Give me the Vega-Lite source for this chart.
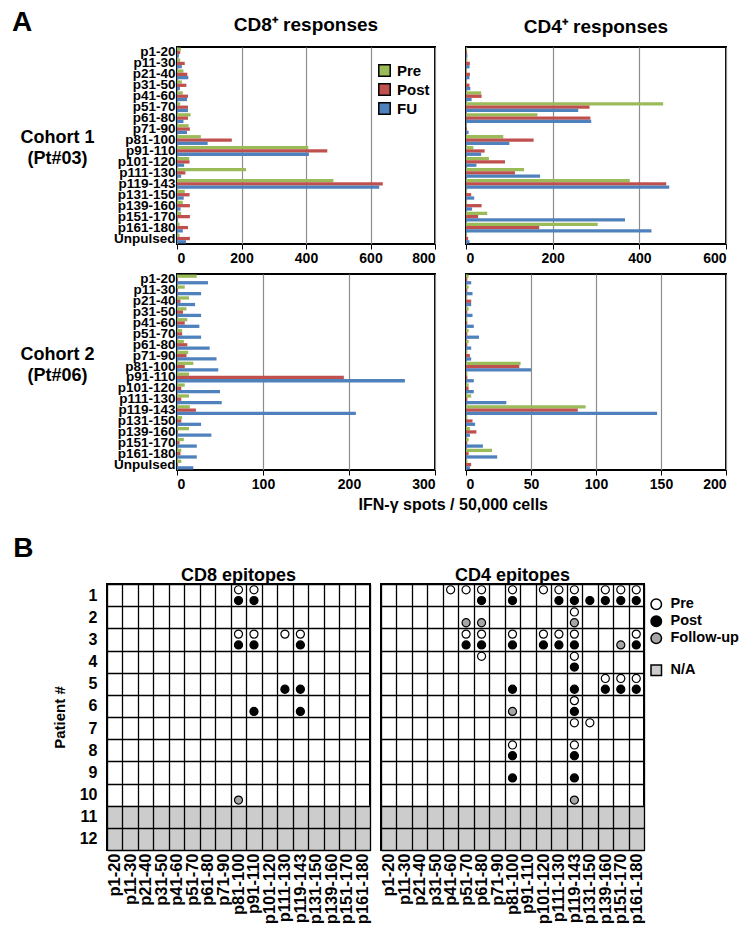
{
"$schema": "https://vega.github.io/schema/vega-lite/v6.json",
"background": "white",
"padding": {"left": 12, "top": 8, "right": 4, "bottom": 0},
"config": {
  "font": "Liberation Sans",
  "view": {"stroke": "black", "strokeWidth": 2},
  "axis": {"labelFont": "Liberation Sans", "labelFontWeight": "bold", "labelColor": "black", "titleFont": "Liberation Sans", "titleFontWeight": "bold", "titleColor": "black", "domainColor": "black", "tickColor": "black"},
  "title": {"font": "Liberation Sans", "fontWeight": "bold", "color": "black"},
  "legend": {"labelFont": "Liberation Sans", "labelFontWeight": "bold", "labelColor": "black"}
},
"datasets": {
  "c1cd8": [
    {"peptide":"p1-20","phase":"Pre","value":12},{"peptide":"p1-20","phase":"Post","value":10},{"peptide":"p1-20","phase":"FU","value":6},
    {"peptide":"p11-30","phase":"Pre","value":10},{"peptide":"p11-30","phase":"Post","value":24},{"peptide":"p11-30","phase":"FU","value":15},
    {"peptide":"p21-40","phase":"Pre","value":20},{"peptide":"p21-40","phase":"Post","value":32},{"peptide":"p21-40","phase":"FU","value":35},
    {"peptide":"p31-50","phase":"Pre","value":15},{"peptide":"p31-50","phase":"Post","value":29},{"peptide":"p31-50","phase":"FU","value":9},
    {"peptide":"p41-60","phase":"Pre","value":18},{"peptide":"p41-60","phase":"Post","value":34},{"peptide":"p41-60","phase":"FU","value":31},
    {"peptide":"p51-70","phase":"Pre","value":10},{"peptide":"p51-70","phase":"Post","value":34},{"peptide":"p51-70","phase":"FU","value":34},
    {"peptide":"p61-80","phase":"Pre","value":42},{"peptide":"p61-80","phase":"Post","value":34},{"peptide":"p61-80","phase":"FU","value":20},
    {"peptide":"p71-90","phase":"Pre","value":36},{"peptide":"p71-90","phase":"Post","value":40},{"peptide":"p71-90","phase":"FU","value":31},
    {"peptide":"p81-100","phase":"Pre","value":74},{"peptide":"p81-100","phase":"Post","value":170},{"peptide":"p81-100","phase":"FU","value":95},
    {"peptide":"p91-110","phase":"Pre","value":407},{"peptide":"p91-110","phase":"Post","value":466},{"peptide":"p91-110","phase":"FU","value":409},
    {"peptide":"p101-120","phase":"Pre","value":38},{"peptide":"p101-120","phase":"Post","value":39},{"peptide":"p101-120","phase":"FU","value":22},
    {"peptide":"p111-130","phase":"Pre","value":214},{"peptide":"p111-130","phase":"Post","value":26},{"peptide":"p111-130","phase":"FU","value":13},
    {"peptide":"p119-143","phase":"Pre","value":485},{"peptide":"p119-143","phase":"Post","value":638},{"peptide":"p119-143","phase":"FU","value":627},
    {"peptide":"p131-150","phase":"Pre","value":24},{"peptide":"p131-150","phase":"Post","value":39},{"peptide":"p131-150","phase":"FU","value":21},
    {"peptide":"p139-160","phase":"Pre","value":18},{"peptide":"p139-160","phase":"Post","value":40},{"peptide":"p139-160","phase":"FU","value":11},
    {"peptide":"p151-170","phase":"Pre","value":13},{"peptide":"p151-170","phase":"Post","value":40},{"peptide":"p151-170","phase":"FU","value":3},
    {"peptide":"p161-180","phase":"Pre","value":8},{"peptide":"p161-180","phase":"Post","value":34},{"peptide":"p161-180","phase":"FU","value":18},
    {"peptide":"Unpulsed","phase":"Pre","value":8},{"peptide":"Unpulsed","phase":"Post","value":40},{"peptide":"Unpulsed","phase":"FU","value":28}
  ],
  "c1cd4": [
    {"peptide":"p1-20","phase":"Pre","value":2},{"peptide":"p1-20","phase":"Post","value":2},{"peptide":"p1-20","phase":"FU","value":3},
    {"peptide":"p11-30","phase":"Pre","value":3},{"peptide":"p11-30","phase":"Post","value":9},{"peptide":"p11-30","phase":"FU","value":8},
    {"peptide":"p21-40","phase":"Pre","value":2},{"peptide":"p21-40","phase":"Post","value":9},{"peptide":"p21-40","phase":"FU","value":8},
    {"peptide":"p31-50","phase":"Pre","value":2},{"peptide":"p31-50","phase":"Post","value":8},{"peptide":"p31-50","phase":"FU","value":10},
    {"peptide":"p41-60","phase":"Pre","value":35},{"peptide":"p41-60","phase":"Post","value":36},{"peptide":"p41-60","phase":"FU","value":13},
    {"peptide":"p51-70","phase":"Pre","value":455},{"peptide":"p51-70","phase":"Post","value":285},{"peptide":"p51-70","phase":"FU","value":259},
    {"peptide":"p61-80","phase":"Pre","value":165},{"peptide":"p61-80","phase":"Post","value":287},{"peptide":"p61-80","phase":"FU","value":289},
    {"peptide":"p71-90","phase":"Pre","value":1},{"peptide":"p71-90","phase":"Post","value":2},{"peptide":"p71-90","phase":"FU","value":6},
    {"peptide":"p81-100","phase":"Pre","value":86},{"peptide":"p81-100","phase":"Post","value":156},{"peptide":"p81-100","phase":"FU","value":100},
    {"peptide":"p91-110","phase":"Pre","value":17},{"peptide":"p91-110","phase":"Post","value":43},{"peptide":"p91-110","phase":"FU","value":35},
    {"peptide":"p101-120","phase":"Pre","value":53},{"peptide":"p101-120","phase":"Post","value":90},{"peptide":"p101-120","phase":"FU","value":24},
    {"peptide":"p111-130","phase":"Pre","value":134},{"peptide":"p111-130","phase":"Post","value":113},{"peptide":"p111-130","phase":"FU","value":171},
    {"peptide":"p119-143","phase":"Pre","value":378},{"peptide":"p119-143","phase":"Post","value":462},{"peptide":"p119-143","phase":"FU","value":469},
    {"peptide":"p131-150","phase":"Pre","value":2},{"peptide":"p131-150","phase":"Post","value":12},{"peptide":"p131-150","phase":"FU","value":19},
    {"peptide":"p139-160","phase":"Pre","value":2},{"peptide":"p139-160","phase":"Post","value":36},{"peptide":"p139-160","phase":"FU","value":14},
    {"peptide":"p151-170","phase":"Pre","value":49},{"peptide":"p151-170","phase":"Post","value":28},{"peptide":"p151-170","phase":"FU","value":367},
    {"peptide":"p161-180","phase":"Pre","value":304},{"peptide":"p161-180","phase":"Post","value":169},{"peptide":"p161-180","phase":"FU","value":428},
    {"peptide":"Unpulsed","phase":"Pre","value":2},{"peptide":"Unpulsed","phase":"Post","value":5},{"peptide":"Unpulsed","phase":"FU","value":8}
  ],
  "c2cd8": [
    {"peptide":"p1-20","phase":"Pre","value":23},{"peptide":"p1-20","phase":"Post","value":1},{"peptide":"p1-20","phase":"FU","value":36},
    {"peptide":"p11-30","phase":"Pre","value":9},{"peptide":"p11-30","phase":"Post","value":1},{"peptide":"p11-30","phase":"FU","value":28},
    {"peptide":"p21-40","phase":"Pre","value":14},{"peptide":"p21-40","phase":"Post","value":4},{"peptide":"p21-40","phase":"FU","value":21},
    {"peptide":"p31-50","phase":"Pre","value":11},{"peptide":"p31-50","phase":"Post","value":7},{"peptide":"p31-50","phase":"FU","value":28},
    {"peptide":"p41-60","phase":"Pre","value":12},{"peptide":"p41-60","phase":"Post","value":9},{"peptide":"p41-60","phase":"FU","value":26},
    {"peptide":"p51-70","phase":"Pre","value":6},{"peptide":"p51-70","phase":"Post","value":6},{"peptide":"p51-70","phase":"FU","value":28},
    {"peptide":"p61-80","phase":"Pre","value":8},{"peptide":"p61-80","phase":"Post","value":12},{"peptide":"p61-80","phase":"FU","value":38},
    {"peptide":"p71-90","phase":"Pre","value":13},{"peptide":"p71-90","phase":"Post","value":11},{"peptide":"p71-90","phase":"FU","value":46},
    {"peptide":"p81-100","phase":"Pre","value":19},{"peptide":"p81-100","phase":"Post","value":9},{"peptide":"p81-100","phase":"FU","value":48},
    {"peptide":"p91-110","phase":"Pre","value":14},{"peptide":"p91-110","phase":"Post","value":194},{"peptide":"p91-110","phase":"FU","value":265},
    {"peptide":"p101-120","phase":"Pre","value":9},{"peptide":"p101-120","phase":"Post","value":5},{"peptide":"p101-120","phase":"FU","value":50},
    {"peptide":"p111-130","phase":"Pre","value":14},{"peptide":"p111-130","phase":"Post","value":5},{"peptide":"p111-130","phase":"FU","value":52},
    {"peptide":"p119-143","phase":"Pre","value":15},{"peptide":"p119-143","phase":"Post","value":22},{"peptide":"p119-143","phase":"FU","value":208},
    {"peptide":"p131-150","phase":"Pre","value":6},{"peptide":"p131-150","phase":"Post","value":5},{"peptide":"p131-150","phase":"FU","value":28},
    {"peptide":"p139-160","phase":"Pre","value":14},{"peptide":"p139-160","phase":"Post","value":1},{"peptide":"p139-160","phase":"FU","value":40},
    {"peptide":"p151-170","phase":"Pre","value":8},{"peptide":"p151-170","phase":"Post","value":3},{"peptide":"p151-170","phase":"FU","value":23},
    {"peptide":"p161-180","phase":"Pre","value":5},{"peptide":"p161-180","phase":"Post","value":4},{"peptide":"p161-180","phase":"FU","value":23},
    {"peptide":"Unpulsed","phase":"Pre","value":5},{"peptide":"Unpulsed","phase":"Post","value":1},{"peptide":"Unpulsed","phase":"FU","value":19}
  ],
  "c2cd4": [
    {"peptide":"p1-20","phase":"Pre","value":2},{"peptide":"p1-20","phase":"Post","value":1},{"peptide":"p1-20","phase":"FU","value":4},
    {"peptide":"p11-30","phase":"Pre","value":2},{"peptide":"p11-30","phase":"Post","value":1},{"peptide":"p11-30","phase":"FU","value":5},
    {"peptide":"p21-40","phase":"Pre","value":1},{"peptide":"p21-40","phase":"Post","value":4},{"peptide":"p21-40","phase":"FU","value":4},
    {"peptide":"p31-50","phase":"Pre","value":2},{"peptide":"p31-50","phase":"Post","value":1},{"peptide":"p31-50","phase":"FU","value":5},
    {"peptide":"p41-60","phase":"Pre","value":1},{"peptide":"p41-60","phase":"Post","value":1},{"peptide":"p41-60","phase":"FU","value":6},
    {"peptide":"p51-70","phase":"Pre","value":2},{"peptide":"p51-70","phase":"Post","value":1},{"peptide":"p51-70","phase":"FU","value":10},
    {"peptide":"p61-80","phase":"Pre","value":2},{"peptide":"p61-80","phase":"Post","value":1},{"peptide":"p61-80","phase":"FU","value":4},
    {"peptide":"p71-90","phase":"Pre","value":1},{"peptide":"p71-90","phase":"Post","value":3},{"peptide":"p71-90","phase":"FU","value":4},
    {"peptide":"p81-100","phase":"Pre","value":42},{"peptide":"p81-100","phase":"Post","value":41},{"peptide":"p81-100","phase":"FU","value":50},
    {"peptide":"p91-110","phase":"Pre","value":1},{"peptide":"p91-110","phase":"Post","value":1},{"peptide":"p91-110","phase":"FU","value":6},
    {"peptide":"p101-120","phase":"Pre","value":2},{"peptide":"p101-120","phase":"Post","value":2},{"peptide":"p101-120","phase":"FU","value":6},
    {"peptide":"p111-130","phase":"Pre","value":4},{"peptide":"p111-130","phase":"Post","value":1},{"peptide":"p111-130","phase":"FU","value":31},
    {"peptide":"p119-143","phase":"Pre","value":92},{"peptide":"p119-143","phase":"Post","value":86},{"peptide":"p119-143","phase":"FU","value":147},
    {"peptide":"p131-150","phase":"Pre","value":1},{"peptide":"p131-150","phase":"Post","value":5},{"peptide":"p131-150","phase":"FU","value":7},
    {"peptide":"p139-160","phase":"Pre","value":3},{"peptide":"p139-160","phase":"Post","value":8},{"peptide":"p139-160","phase":"FU","value":3},
    {"peptide":"p151-170","phase":"Pre","value":2},{"peptide":"p151-170","phase":"Post","value":1},{"peptide":"p151-170","phase":"FU","value":13},
    {"peptide":"p161-180","phase":"Pre","value":20},{"peptide":"p161-180","phase":"Post","value":2},{"peptide":"p161-180","phase":"FU","value":24},
    {"peptide":"Unpulsed","phase":"Pre","value":1},{"peptide":"Unpulsed","phase":"Post","value":4},{"peptide":"Unpulsed","phase":"FU","value":3}
  ],
  "na": [{"patient":11,"status":"N/A"},{"patient":12,"status":"N/A"}],
  "cd8pts": [
    {"patient":1,"peptide":"p81-100","status":"Pre"},{"patient":1,"peptide":"p81-100","status":"Post"},
    {"patient":1,"peptide":"p91-110","status":"Pre"},{"patient":1,"peptide":"p91-110","status":"Post"},
    {"patient":3,"peptide":"p81-100","status":"Pre"},{"patient":3,"peptide":"p81-100","status":"Post"},
    {"patient":3,"peptide":"p91-110","status":"Pre"},{"patient":3,"peptide":"p91-110","status":"Post"},
    {"patient":3,"peptide":"p111-130","status":"Pre"},
    {"patient":3,"peptide":"p119-143","status":"Pre"},{"patient":3,"peptide":"p119-143","status":"Post"},
    {"patient":5,"peptide":"p111-130","status":"Post"},{"patient":5,"peptide":"p119-143","status":"Post"},
    {"patient":6,"peptide":"p91-110","status":"Post"},{"patient":6,"peptide":"p119-143","status":"Post"},
    {"patient":10,"peptide":"p81-100","status":"Follow-up"}
  ],
  "cd4pts": [
    {"patient":1,"peptide":"p41-60","status":"Pre"},
    {"patient":1,"peptide":"p51-70","status":"Pre"},
    {"patient":1,"peptide":"p61-80","status":"Pre"},{"patient":1,"peptide":"p61-80","status":"Post"},
    {"patient":1,"peptide":"p81-100","status":"Pre"},{"patient":1,"peptide":"p81-100","status":"Post"},
    {"patient":1,"peptide":"p101-120","status":"Pre"},
    {"patient":1,"peptide":"p111-130","status":"Pre"},{"patient":1,"peptide":"p111-130","status":"Post"},
    {"patient":1,"peptide":"p119-143","status":"Pre"},{"patient":1,"peptide":"p119-143","status":"Post"},
    {"patient":1,"peptide":"p131-150","status":"Post"},
    {"patient":1,"peptide":"p139-160","status":"Pre"},{"patient":1,"peptide":"p139-160","status":"Post"},
    {"patient":1,"peptide":"p151-170","status":"Pre"},{"patient":1,"peptide":"p151-170","status":"Post"},
    {"patient":1,"peptide":"p161-180","status":"Pre"},{"patient":1,"peptide":"p161-180","status":"Post"},
    {"patient":2,"peptide":"p51-70","status":"Follow-up"},
    {"patient":2,"peptide":"p61-80","status":"Follow-up"},
    {"patient":2,"peptide":"p119-143","status":"Pre"},{"patient":2,"peptide":"p119-143","status":"Follow-up"},
    {"patient":3,"peptide":"p51-70","status":"Pre"},{"patient":3,"peptide":"p51-70","status":"Post"},
    {"patient":3,"peptide":"p61-80","status":"Pre"},{"patient":3,"peptide":"p61-80","status":"Post"},
    {"patient":3,"peptide":"p81-100","status":"Pre"},{"patient":3,"peptide":"p81-100","status":"Post"},
    {"patient":3,"peptide":"p101-120","status":"Pre"},{"patient":3,"peptide":"p101-120","status":"Post"},
    {"patient":3,"peptide":"p111-130","status":"Pre"},{"patient":3,"peptide":"p111-130","status":"Post"},
    {"patient":3,"peptide":"p119-143","status":"Pre"},{"patient":3,"peptide":"p119-143","status":"Post"},
    {"patient":3,"peptide":"p151-170","status":"Follow-up"},
    {"patient":3,"peptide":"p161-180","status":"Pre"},{"patient":3,"peptide":"p161-180","status":"Post"},
    {"patient":4,"peptide":"p61-80","status":"Pre"},
    {"patient":4,"peptide":"p119-143","status":"Pre"},{"patient":4,"peptide":"p119-143","status":"Post"},
    {"patient":5,"peptide":"p81-100","status":"Post"},
    {"patient":5,"peptide":"p119-143","status":"Post"},
    {"patient":5,"peptide":"p139-160","status":"Pre"},{"patient":5,"peptide":"p139-160","status":"Post"},
    {"patient":5,"peptide":"p151-170","status":"Pre"},{"patient":5,"peptide":"p151-170","status":"Post"},
    {"patient":5,"peptide":"p161-180","status":"Pre"},{"patient":5,"peptide":"p161-180","status":"Post"},
    {"patient":6,"peptide":"p81-100","status":"Follow-up"},
    {"patient":6,"peptide":"p119-143","status":"Pre"},{"patient":6,"peptide":"p119-143","status":"Post"},
    {"patient":7,"peptide":"p119-143","status":"Pre"},
    {"patient":7,"peptide":"p131-150","status":"Pre"},
    {"patient":8,"peptide":"p81-100","status":"Pre"},{"patient":8,"peptide":"p81-100","status":"Post"},
    {"patient":8,"peptide":"p119-143","status":"Pre"},{"patient":8,"peptide":"p119-143","status":"Post"},
    {"patient":9,"peptide":"p81-100","status":"Post"},
    {"patient":9,"peptide":"p119-143","status":"Post"},
    {"patient":10,"peptide":"p119-143","status":"Follow-up"}
  ]
},
"spacing": 22,
"resolve": {"legend": {"color": "independent", "fill": "independent", "shape": "independent"}},
"vconcat": [
  {
    "title": {"text": "A", "anchor": "start", "fontSize": 28, "offset": -22, "dx": -7},
    "spacing": 4,
    "resolve": {"legend": {"color": "independent"}},
    "vconcat": [
      {
        "spacing": 31,
        "bounds": "flush",
        "resolve": {"legend": {"color": "independent"}},
        "hconcat": [
          {"width": 39, "height": 20, "view": {"stroke": null}, "data": {"values": []}, "mark": "point"},
          {
            "width": 258, "height": 197,
            "title": {"text": "CD8⁺ responses", "fontSize": 19, "offset": 10},
            "data": {"name": "c1cd8"},
            "mark": {"type": "bar"},
            "encoding": {
              "y": {"field": "peptide", "type": "nominal",
                    "sort": ["p1-20","p11-30","p21-40","p31-50","p41-60","p51-70","p61-80","p71-90","p81-100","p91-110","p101-120","p111-130","p119-143","p131-150","p139-160","p151-170","p161-180","Unpulsed"],
                    "scale": {"paddingInner": 0.1, "paddingOuter": 0.05},
                    "axis": {"title": ["Cohort 1", "(Pt#03)"], "titleAngle": 0, "titleFontSize": 18, "titleLineHeight": 21, "titleX": -120, "titleY": 90, "titleAlign": "center", "titleBaseline": "middle", "labelFontSize": 13.5, "labelPadding": 2, "ticks": false, "domain": false, "labelOverlap": false}},
              "yOffset": {"field": "phase", "type": "nominal", "sort": ["Pre","Post","FU"], "scale": {"paddingInner": 0}},
              "x": {"field": "value", "type": "quantitative", "scale": {"domain": [0, 800], "nice": false},
                    "axis": {"values": [0, 200, 400, 600, 800], "title": null, "grid": true, "gridColor": "#8c8c8c", "gridWidth": 1.2, "labelFontSize": 14, "tickSize": 5, "domain": false, "labelPadding": 2}},
              "color": {"field": "phase", "type": "nominal", "scale": {"domain": ["Pre","Post","FU"], "range": ["#9BBB59","#C0504D","#4F81BD"]},
                        "legend": {"title": null, "orient": "none", "legendX": 200, "legendY": 16, "symbolType": "square", "symbolSize": 130, "symbolStrokeColor": "black", "symbolStrokeWidth": 1.5, "labelFontSize": 15, "rowPadding": 0, "labelOffset": 5}}
            }
          },
          {
            "width": 260, "height": 197,
            "title": {"text": "CD4⁺ responses", "fontSize": 19, "offset": 10},
            "data": {"name": "c1cd4"},
            "mark": {"type": "bar"},
            "encoding": {
              "y": {"field": "peptide", "type": "nominal",
                    "sort": ["p1-20","p11-30","p21-40","p31-50","p41-60","p51-70","p61-80","p71-90","p81-100","p91-110","p101-120","p111-130","p119-143","p131-150","p139-160","p151-170","p161-180","Unpulsed"],
                    "scale": {"paddingInner": 0.1, "paddingOuter": 0.05}, "axis": null},
              "yOffset": {"field": "phase", "type": "nominal", "sort": ["Pre","Post","FU"], "scale": {"paddingInner": 0}},
              "x": {"field": "value", "type": "quantitative", "scale": {"domain": [0, 600], "nice": false},
                    "axis": {"values": [0, 200, 400, 600], "title": null, "grid": true, "gridColor": "#8c8c8c", "gridWidth": 1.2, "labelFontSize": 14, "tickSize": 5, "domain": false, "labelPadding": 2}},
              "color": {"field": "phase", "type": "nominal", "scale": {"domain": ["Pre","Post","FU"], "range": ["#9BBB59","#C0504D","#4F81BD"]}, "legend": null}
            }
          }
        ]
      },
      {
        "spacing": 31,
        "bounds": "flush",
        "title": {"text": "IFN-γ spots / 50,000 cells", "orient": "bottom", "anchor": "middle", "fontSize": 16, "offset": 5, "dx": 80},
        "resolve": {"legend": {"color": "independent"}},
        "hconcat": [
          {"width": 39, "height": 20, "view": {"stroke": null}, "data": {"values": []}, "mark": "point"},
          {
            "width": 258, "height": 196,
            "data": {"name": "c2cd8"},
            "mark": {"type": "bar"},
            "encoding": {
              "y": {"field": "peptide", "type": "nominal",
                    "sort": ["p1-20","p11-30","p21-40","p31-50","p41-60","p51-70","p61-80","p71-90","p81-100","p91-110","p101-120","p111-130","p119-143","p131-150","p139-160","p151-170","p161-180","Unpulsed"],
                    "scale": {"paddingInner": 0.1, "paddingOuter": 0.05},
                    "axis": {"title": ["Cohort 2", "(Pt#06)"], "titleAngle": 0, "titleFontSize": 18, "titleLineHeight": 21, "titleX": -120, "titleY": 80, "titleAlign": "center", "titleBaseline": "middle", "labelFontSize": 13.5, "labelPadding": 2, "ticks": false, "domain": false, "labelOverlap": false}},
              "yOffset": {"field": "phase", "type": "nominal", "sort": ["Pre","Post","FU"], "scale": {"paddingInner": 0}},
              "x": {"field": "value", "type": "quantitative", "scale": {"domain": [0, 300], "nice": false},
                    "axis": {"values": [0, 100, 200, 300], "title": null, "grid": true, "gridColor": "#8c8c8c", "gridWidth": 1.2, "labelFontSize": 14, "tickSize": 5, "domain": false, "labelPadding": 2}},
              "color": {"field": "phase", "type": "nominal", "scale": {"domain": ["Pre","Post","FU"], "range": ["#9BBB59","#C0504D","#4F81BD"]}, "legend": null}
            }
          },
          {
            "width": 260, "height": 196,
            "data": {"name": "c2cd4"},
            "mark": {"type": "bar"},
            "encoding": {
              "y": {"field": "peptide", "type": "nominal",
                    "sort": ["p1-20","p11-30","p21-40","p31-50","p41-60","p51-70","p61-80","p71-90","p81-100","p91-110","p101-120","p111-130","p119-143","p131-150","p139-160","p151-170","p161-180","Unpulsed"],
                    "scale": {"paddingInner": 0.1, "paddingOuter": 0.05}, "axis": null},
              "yOffset": {"field": "phase", "type": "nominal", "sort": ["Pre","Post","FU"], "scale": {"paddingInner": 0}},
              "x": {"field": "value", "type": "quantitative", "scale": {"domain": [0, 200], "nice": false},
                    "axis": {"values": [0, 50, 100, 150, 200], "title": null, "grid": true, "gridColor": "#8c8c8c", "gridWidth": 1.2, "labelFontSize": 14, "tickSize": 5, "domain": false, "labelPadding": 2}},
              "color": {"field": "phase", "type": "nominal", "scale": {"domain": ["Pre","Post","FU"], "range": ["#9BBB59","#C0504D","#4F81BD"]}, "legend": null}
            }
          }
        ]
      }
    ]
  },
  {
    "title": {"text": "B", "anchor": "start", "fontSize": 28, "offset": 3, "dx": -38},
    "spacing": 11,
    "bounds": "flush",
    "resolve": {"legend": {"fill": "independent", "shape": "independent"}},
    "hconcat": [
      {
        "width": 263, "height": 266,
        "title": {"text": "CD8 epitopes", "fontSize": 18, "offset": -9},
        "encoding": {
          "x": {"field": "peptide", "type": "nominal",
                "scale": {"domain": ["p1-20","p11-30","p21-40","p31-50","p41-60","p51-70","p61-80","p71-90","p81-100","p91-110","p101-120","p111-130","p119-143","p131-150","p139-160","p151-170","p161-180"], "paddingInner": 0, "paddingOuter": 0},
                "axis": {"title": null, "labelAngle": 270, "labelFontSize": 16.5, "labelPadding": 3, "ticks": false, "domain": false, "grid": true, "tickBand": "extent", "gridColor": "black", "gridWidth": 1.3, "gridOpacity": 1, "zindex": 1, "labelOverlap": false}},
          "y": {"field": "patient", "type": "ordinal",
                "scale": {"domain": [1,2,3,4,5,6,7,8,9,10,11,12], "paddingInner": 0, "paddingOuter": 0},
                "axis": {"title": "Patient #", "titleFontSize": 15, "titlePadding": 12, "labelFontSize": 16, "labelPadding": 10, "labelAngle": 0, "ticks": false, "domain": false, "grid": true, "tickBand": "extent", "gridColor": "black", "gridWidth": 1.3, "gridOpacity": 1, "zindex": 1}}
        },
        "layer": [
          {"data": {"name": "na"}, "mark": {"type": "rect", "fill": "#cccccc"}, "encoding": {"x": {"value": 0}, "x2": {"value": "width"}}},
          {"data": {"name": "cd8pts"}, "transform": [{"filter": "datum.status === 'Pre'"}],
           "mark": {"type": "point", "filled": true, "stroke": "black", "strokeWidth": 1.2, "size": 65, "opacity": 1, "yOffset": -5.3},
           "encoding": {
             "fill": {"field": "status", "type": "nominal", "scale": {"domain": ["Pre","Post","Follow-up","gap","N/A"], "range": ["white","black","#a6a6a6","white","#cccccc"]}, "legend": null},
             "shape": {"field": "status", "type": "nominal", "scale": {"domain": ["Pre","Post","Follow-up","gap","N/A"], "range": ["circle","circle","circle","M0,0","square"]}, "legend": null}}},
          {"data": {"name": "cd8pts"}, "transform": [{"filter": "datum.status !== 'Pre'"}],
           "mark": {"type": "point", "filled": true, "stroke": "black", "strokeWidth": 1.2, "size": 65, "opacity": 1, "yOffset": 5.5},
           "encoding": {
             "fill": {"field": "status", "type": "nominal", "scale": {"domain": ["Pre","Post","Follow-up","gap","N/A"], "range": ["white","black","#a6a6a6","white","#cccccc"]}, "legend": null},
             "shape": {"field": "status", "type": "nominal", "scale": {"domain": ["Pre","Post","Follow-up","gap","N/A"], "range": ["circle","circle","circle","M0,0","square"]}, "legend": null}}}
        ]
      },
      {
        "width": 263, "height": 266,
        "title": {"text": "CD4 epitopes", "fontSize": 18, "offset": -2},
        "encoding": {
          "x": {"field": "peptide", "type": "nominal",
                "scale": {"domain": ["p1-20","p11-30","p21-40","p31-50","p41-60","p51-70","p61-80","p71-90","p81-100","p91-110","p101-120","p111-130","p119-143","p131-150","p139-160","p151-170","p161-180"], "paddingInner": 0, "paddingOuter": 0},
                "axis": {"title": null, "labelAngle": 270, "labelFontSize": 16.5, "labelPadding": 3, "ticks": false, "domain": false, "grid": true, "tickBand": "extent", "gridColor": "black", "gridWidth": 1.3, "gridOpacity": 1, "zindex": 1, "labelOverlap": false}},
          "y": {"field": "patient", "type": "ordinal",
                "scale": {"domain": [1,2,3,4,5,6,7,8,9,10,11,12], "paddingInner": 0, "paddingOuter": 0},
                "axis": {"title": null, "labels": false, "ticks": false, "domain": false, "grid": true, "tickBand": "extent", "gridColor": "black", "gridWidth": 1.3, "gridOpacity": 1, "zindex": 1}}
        },
        "layer": [
          {"data": {"name": "na"}, "mark": {"type": "rect", "fill": "#cccccc"}, "encoding": {"x": {"value": 0}, "x2": {"value": "width"}}},
          {"data": {"name": "cd4pts"}, "transform": [{"filter": "datum.status === 'Pre'"}],
           "mark": {"type": "point", "filled": true, "stroke": "black", "strokeWidth": 1.2, "size": 65, "opacity": 1, "yOffset": -5.3},
           "encoding": {
             "fill": {"field": "status", "type": "nominal", "scale": {"domain": ["Pre","Post","Follow-up","gap","N/A"], "range": ["white","black","#a6a6a6","white","#cccccc"]},
                      "legend": {"title": null, "orient": "none", "legendX": 268, "legendY": 13, "labelFontSize": 14.5, "symbolSize": 110, "rowPadding": 0, "labelOffset": 7,
                                 "labelExpr": "datum.value === 'gap' ? '' : datum.label",
                                 "encode": {"symbols": {"update": {"stroke": {"value": "black"}, "strokeWidth": {"signal": "datum.value === 'N/A' ? 2.5 : 1.5"}, "size": {"signal": "datum.value === 'N/A' ? 170 : 110"}}}}}},
             "shape": {"field": "status", "type": "nominal", "scale": {"domain": ["Pre","Post","Follow-up","gap","N/A"], "range": ["circle","circle","circle","M0,0","square"]},
                      "legend": {"title": null, "orient": "none", "legendX": 268, "legendY": 13, "labelFontSize": 14.5, "symbolSize": 110, "rowPadding": 0, "labelOffset": 7,
                                 "labelExpr": "datum.value === 'gap' ? '' : datum.label",
                                 "encode": {"symbols": {"update": {"stroke": {"value": "black"}, "strokeWidth": {"signal": "datum.value === 'N/A' ? 2.5 : 1.5"}, "size": {"signal": "datum.value === 'N/A' ? 170 : 110"}}}}}}}},
          {"data": {"name": "cd4pts"}, "transform": [{"filter": "datum.status !== 'Pre'"}],
           "mark": {"type": "point", "filled": true, "stroke": "black", "strokeWidth": 1.2, "size": 65, "opacity": 1, "yOffset": 5.5},
           "encoding": {
             "fill": {"field": "status", "type": "nominal", "scale": {"domain": ["Pre","Post","Follow-up","gap","N/A"], "range": ["white","black","#a6a6a6","white","#cccccc"]}},
             "shape": {"field": "status", "type": "nominal", "scale": {"domain": ["Pre","Post","Follow-up","gap","N/A"], "range": ["circle","circle","circle","M0,0","square"]}}}}
        ]
      }
    ]
  }
]
}
